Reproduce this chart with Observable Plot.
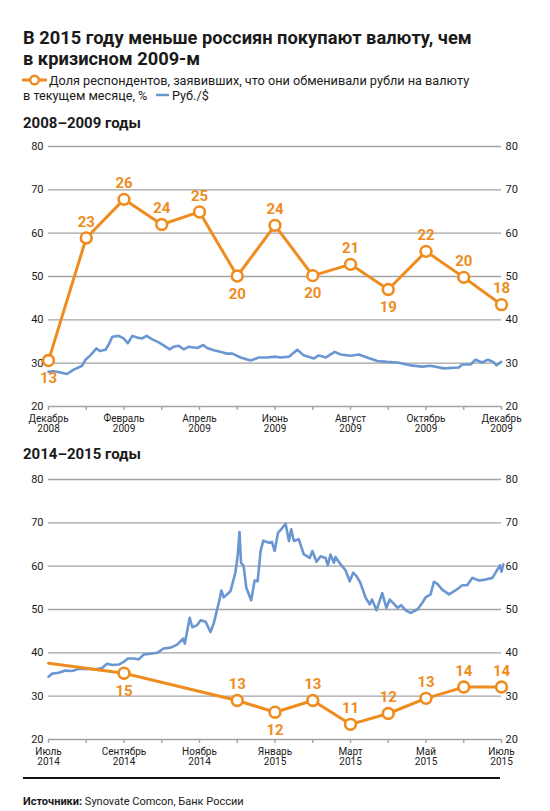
<!DOCTYPE html>
<html><head><meta charset="utf-8">
<script src="https://cdn.jsdelivr.net/npm/d3@7"></script>
<script src="https://cdn.jsdelivr.net/npm/@observablehq/plot@0.6"></script>
<style>
body{margin:0;background:#fff;font-family:Roboto,"Noto Sans",sans-serif;color:#1a1a1a;}
#wrap{position:relative;width:550px;height:811px;overflow:hidden;background:#fff;}
.abs{position:absolute;white-space:nowrap;}
.title{left:23px;font-weight:700;font-size:18.3px;line-height:18px;}
.leg{font-size:12.7px;line-height:15px;}
.sub{left:23px;font-weight:700;font-size:15px;line-height:15px;}
#src{left:23px;top:795px;font-size:11px;line-height:13px;}
#rule{left:23px;top:777px;width:477px;height:2px;background:#111;}
.chart{position:absolute;left:0;}
</style></head><body><div id="wrap">
<div class="abs title" style="top:29px">В 2015 году меньше россиян покупают валюту, чем</div>
<div class="abs title" style="top:50px">в кризисном 2009-м</div>
<svg class="abs" style="left:22px;top:74px" width="26" height="12"><line x1="0" y1="6" x2="25" y2="6" stroke="#ef8c1f" stroke-width="3"/><circle cx="12.5" cy="6" r="4.3" fill="#fff" stroke="#ef8c1f" stroke-width="2.4"/></svg>
<div class="abs leg" style="left:49px;top:73px">Доля респондентов, заявивших, что они обменивали рубли на валюту</div>
<div class="abs leg" style="left:23px;top:88px">в текущем месяце, %</div>
<svg class="abs" style="left:156px;top:91px" width="14" height="8"><line x1="0" y1="4" x2="13" y2="4" stroke="#6a96d2" stroke-width="2.5"/></svg>
<div class="abs leg" style="left:172px;top:88px">Руб./$</div>
<div class="abs sub" style="top:116px">2008–2009 годы</div>
<div id="c1" class="chart" style="top:136px"></div>
<div class="abs sub" style="top:447px">2014–2015 годы</div>
<div id="c2" class="chart" style="top:469px"></div>
<div id="rule" class="abs"></div>
<div id="src" class="abs"><b>Источники:</b> Synovate Comcon, Банк России</div>
</div>
<script>
const ORANGE = "#ef8c1f", BLUE = "#6a96d2", GRID = "#a3a3a3";
const yTicks = [20, 30, 40, 50, 60, 70, 80];
const gridTicks = [30, 40, 50, 60, 70, 80];

// 2008–2009
const xLabels1 = ["Декабрь\n2008", "Февраль\n2009", "Апрель\n2009", "Июнь\n2009", "Август\n2009", "Октябрь\n2009", "Декабрь\n2009"];
const shareMonth1 = [0, 1, 2, 3, 4, 5, 6, 7, 8, 9, 10, 11, 12];
const sharePct1 = [13, 23, 26, 24, 25, 20, 24, 20, 21, 19, 22, 20, 18];
const sharePlot1 = [30.6, 58.9, 67.8, 62.0, 64.9, 50.1, 61.8, 50.2, 52.8, 47.0, 55.8, 49.8, 43.5];
const labelBelow1 = [true, false, false, false, false, true, false, true, false, true, false, false, false];
const rub1 = [[0,28.0],[0.14,28.15],[0.32,27.85],[0.49,27.5],[0.67,28.5],[0.89,29.4],[0.98,30.8],[1.11,31.8],[1.27,33.4],[1.36,32.8],[1.51,33.1],[1.60,34.4],[1.69,36.1],[1.86,36.3],[1.99,35.7],[2.10,34.6],[2.22,36.3],[2.35,35.9],[2.48,35.7],[2.60,36.3],[2.75,35.5],[2.92,34.8],[3.07,34.0],[3.21,33.2],[3.32,33.8],[3.45,34.0],[3.58,33.2],[3.72,33.8],[3.94,33.5],[4.10,34.2],[4.20,33.5],[4.38,33.0],[4.60,32.5],[4.73,32.2],[4.87,32.2],[5.09,31.3],[5.35,30.6],[5.57,31.3],[5.79,31.3],[6.01,31.5],[6.15,31.3],[6.37,31.5],[6.59,33.1],[6.76,31.8],[7.03,31.1],[7.16,31.8],[7.34,31.3],[7.58,32.6],[7.74,32.0],[8.0,31.7],[8.22,32.0],[8.44,31.3],[8.71,30.5],[8.97,30.3],[9.24,30.15],[9.59,29.5],[9.90,29.2],[10.12,29.4],[10.47,28.8],[10.87,29.0],[10.96,29.7],[11.18,29.7],[11.31,30.8],[11.49,30.15],[11.64,30.8],[11.78,30.3],[11.87,29.5],[11.99,30.3]];

// 2014–2015
const xLabels2 = ["Июль\n2014", "Сентябрь\n2014", "Ноябрь\n2014", "Январь\n2015", "Март\n2015", "Май\n2015", "Июль\n2015"];
const shareMonth2 = [0, 2, 5, 6, 7, 8, 9, 10, 11, 12];
const sharePct2 = [null, 15, 13, 12, 13, 11, 12, 13, 14, 14];
const sharePlot2 = [37.6, 35.3, 29.0, 26.3, 29.0, 23.5, 26.0, 29.5, 32.1, 32.1];
const labelBelow2 = [false, true, false, true, false, false, false, false, false, false];
const rub2 = [[0,34.5],[0.10,35.2],[0.27,35.4],[0.45,35.9],[0.63,35.8],[0.80,36.3],[1.02,36.3],[1.25,36.2],[1.42,36.5],[1.55,37.5],[1.69,37.2],[1.86,37.3],[1.99,37.9],[2.10,38.7],[2.26,38.7],[2.39,38.5],[2.52,39.6],[2.70,39.8],[2.88,40.0],[3.05,41.0],[3.23,41.2],[3.41,41.9],[3.57,43.3],[3.61,42.1],[3.74,48.1],[3.81,45.9],[3.94,46.4],[4.03,47.5],[4.16,47.2],[4.29,44.8],[4.38,46.9],[4.51,51.5],[4.58,54.4],[4.64,52.8],[4.82,54.2],[4.95,58.5],[5.01,62.3],[5.06,67.9],[5.10,60.8],[5.17,60.0],[5.24,55.0],[5.37,52.1],[5.46,56.7],[5.54,56.5],[5.62,63.6],[5.69,65.9],[5.84,65.4],[5.92,65.6],[5.99,63.5],[6.08,67.7],[6.19,68.8],[6.28,69.8],[6.37,65.8],[6.43,68.5],[6.50,65.8],[6.63,66.2],[6.76,62.8],[6.92,61.9],[6.99,63.5],[7.10,61.0],[7.21,62.3],[7.34,61.9],[7.40,60.2],[7.47,62.7],[7.56,60.8],[7.60,62.1],[7.74,60.4],[7.87,59.0],[7.98,56.5],[8.07,58.5],[8.16,57.7],[8.26,56.2],[8.40,52.7],[8.51,51.2],[8.57,52.3],[8.69,49.8],[8.84,53.8],[8.95,50.4],[9.04,52.3],[9.15,51.3],[9.25,50.4],[9.34,51.0],[9.46,49.8],[9.59,49.2],[9.77,50.0],[9.90,51.5],[9.99,52.8],[10.12,53.5],[10.21,56.4],[10.30,55.9],[10.43,54.6],[10.61,53.5],[10.78,54.4],[10.96,55.6],[11.09,55.6],[11.23,57.3],[11.40,56.7],[11.58,56.9],[11.76,57.3],[11.89,59.2],[11.96,60.2],[12.0,58.7],[12.05,60.4]];

function chart(xLabels, months, pct, plotted, below, rub) {
  const share = months.map((m, i) => ({m, p: plotted[i], pct: pct[i], below: below[i]}));
  const withMark = share.filter(d => d.pct != null);
  const rubData = rub.map(([m, v]) => ({m, v}));
  const labelTicks = xLabels.map((_, i) => i * 2);
  return Plot.plot({
    width: 550, height: 302,
    marginTop: 10, marginBottom: 32, marginLeft: 48, marginRight: 49,
    style: {fontFamily: "Roboto, sans-serif", fontSize: "11px", color: "#1a1a1a", background: "transparent", overflow: "visible"},
    x: {domain: [0, 12]},
    y: {domain: [20, 80]},
    marks: [
      Plot.gridY(gridTicks, {stroke: GRID, strokeOpacity: 1, strokeWidth: 1.4}),
      Plot.ruleY([20], {stroke: GRID, strokeWidth: 1.4}),
      Plot.axisY(yTicks, {anchor: "left", tickSize: 0, tickPadding: 5, label: null}),
      Plot.axisY(yTicks, {anchor: "right", tickSize: 0, tickPadding: 4, label: null}),
      Plot.axisX(d3.range(13), {anchor: "bottom", tickSize: 4, stroke: GRID, strokeWidth: 1.4, tickFormat: () => "", label: null}),
      Plot.axisX(labelTicks, {anchor: "bottom", tickSize: 0, tickPadding: 8, tickFormat: d => xLabels[d / 2], fontSize: 10, lineHeight: 1, label: null}),
      Plot.line(rubData, {x: "m", y: "v", stroke: BLUE, strokeWidth: 2.6}),
      Plot.line(share, {x: "m", y: "p", stroke: ORANGE, strokeWidth: 3}),
      Plot.dot(withMark, {x: "m", y: "p", r: 5.4, fill: "white", stroke: ORANGE, strokeWidth: 2.6}),
      Plot.text(withMark.filter(d => !d.below), {x: "m", y: "p", text: "pct", dy: -16, fill: ORANGE, fontWeight: 700, fontSize: 15}),
      Plot.text(withMark.filter(d => d.below), {x: "m", y: "p", text: "pct", dy: 18, fill: ORANGE, fontWeight: 700, fontSize: 15})
    ]
  });
}

document.getElementById("c1").append(chart(xLabels1, shareMonth1, sharePct1, sharePlot1, labelBelow1, rub1));
document.getElementById("c2").append(chart(xLabels2, shareMonth2, sharePct2, sharePlot2, labelBelow2, rub2));
</script>
</body></html>
